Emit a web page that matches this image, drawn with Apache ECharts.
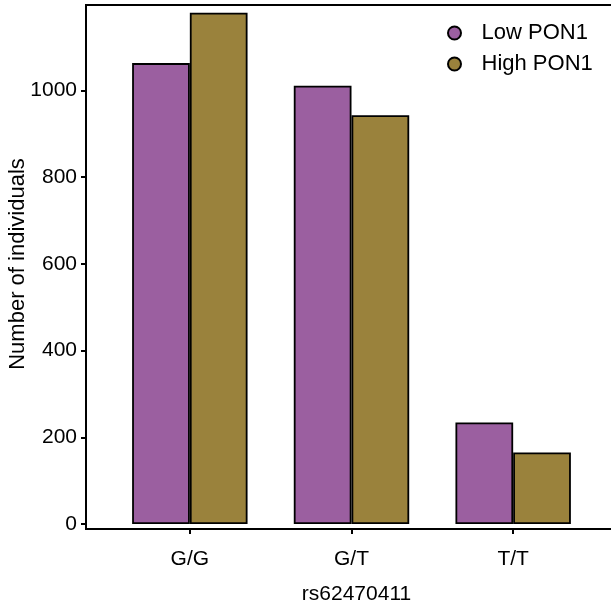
<!DOCTYPE html>
<html>
<head>
<meta charset="utf-8">
<script src="https://cdn.jsdelivr.net/npm/echarts@6/dist/echarts.min.js"></script>
<style>
html, body { margin: 0; padding: 0; background: #fff; }
#container1 { width: 611px; height: 604px; }
</style>
</head>
<body>
<div id="container1"></div>
<script>
var genotypes = ['G/G', 'G/T', 'T/T'];
var seriesNames = ['Low PON1', 'High PON1'];
var lowPon1 = [1063, 1011, 234];
var highPon1 = [1179, 943, 165];
var yTicks = [0, 200, 400, 600, 800, 1000];

var dom = document.getElementById("container1");
var myChart = echarts.init(dom);
var font = 'Liberation Sans';

var option = {
    animation: false,
    color: ['#9b5fa0', '#9a823c'],
    textStyle: { fontFamily: font },
    legend: {
        orient: 'vertical',
        left: 442,
        top: 17,
        icon: 'circle',
        itemWidth: 44,
        itemHeight: 13,
        itemGap: 9,
        symbolKeepAspect: true,
        textStyle: { color: '#000', fontSize: 22, fontFamily: font, lineHeight: 22 },
        data: seriesNames
    },
    grid: { left: 109, right: 17, top: 5, bottom: 75, containLabel: false, outerBoundsMode: 'none' },
    xAxis: {
        type: 'category',
        data: genotypes,
        position: 'bottom',
        axisLine: { show: false, onZero: false },
        axisTick: { show: true, alignWithLabel: true, length: 5, lineStyle: { color: '#000', width: 2 } },
        axisLabel: { color: '#000', fontSize: 21, margin: 20, fontFamily: font },
        name: 'rs62470411',
        nameLocation: 'middle',
        nameGap: 55,
        nameMoveOverlap: false,
        nameTextStyle: { color: '#000', fontSize: 21, fontFamily: font, padding: [0, 0, 0, 10] }
    },
    yAxis: {
        type: 'value',
        min: -11.5,
        max: 1197,
        offset: 23,
        splitLine: { show: false },
        axisLine: { show: true, lineStyle: { color: '#000', width: 2 } },
        axisTick: { show: true, length: 5, customValues: yTicks, lineStyle: { color: '#000', width: 2 } },
        axisLabel: {
            color: '#000', fontSize: 21, margin: 9, customValues: yTicks, fontFamily: font,
            formatter: function (v) { return String(v); }
        },
        name: 'Number of individuals',
        nameLocation: 'middle',
        nameGap: 57,
        nameMoveOverlap: false,
        nameTextStyle: { color: '#000', fontSize: 22, fontFamily: font, padding: [0, 0, 0, 6] }
    },
    graphic: [
        {
            type: 'polyline',
            silent: true,
            shape: { points: [[611, 5], [86, 5], [86, 529], [611, 529]] },
            style: { stroke: '#000', lineWidth: 2, fill: null }
        }
    ],
    series: [
        {
            name: seriesNames[0],
            type: 'bar',
            data: lowPon1,
            barWidth: '35.7%',
            barGap: '0%',
            itemStyle: { borderColor: '#000', borderWidth: 1.8 }
        },
        {
            name: seriesNames[1],
            type: 'bar',
            data: highPon1,
            barWidth: '35.7%',
            barGap: '0%',
            itemStyle: { borderColor: '#000', borderWidth: 1.8 }
        }
    ]
};
myChart.setOption(option, true);
</script>
</body>
</html>
